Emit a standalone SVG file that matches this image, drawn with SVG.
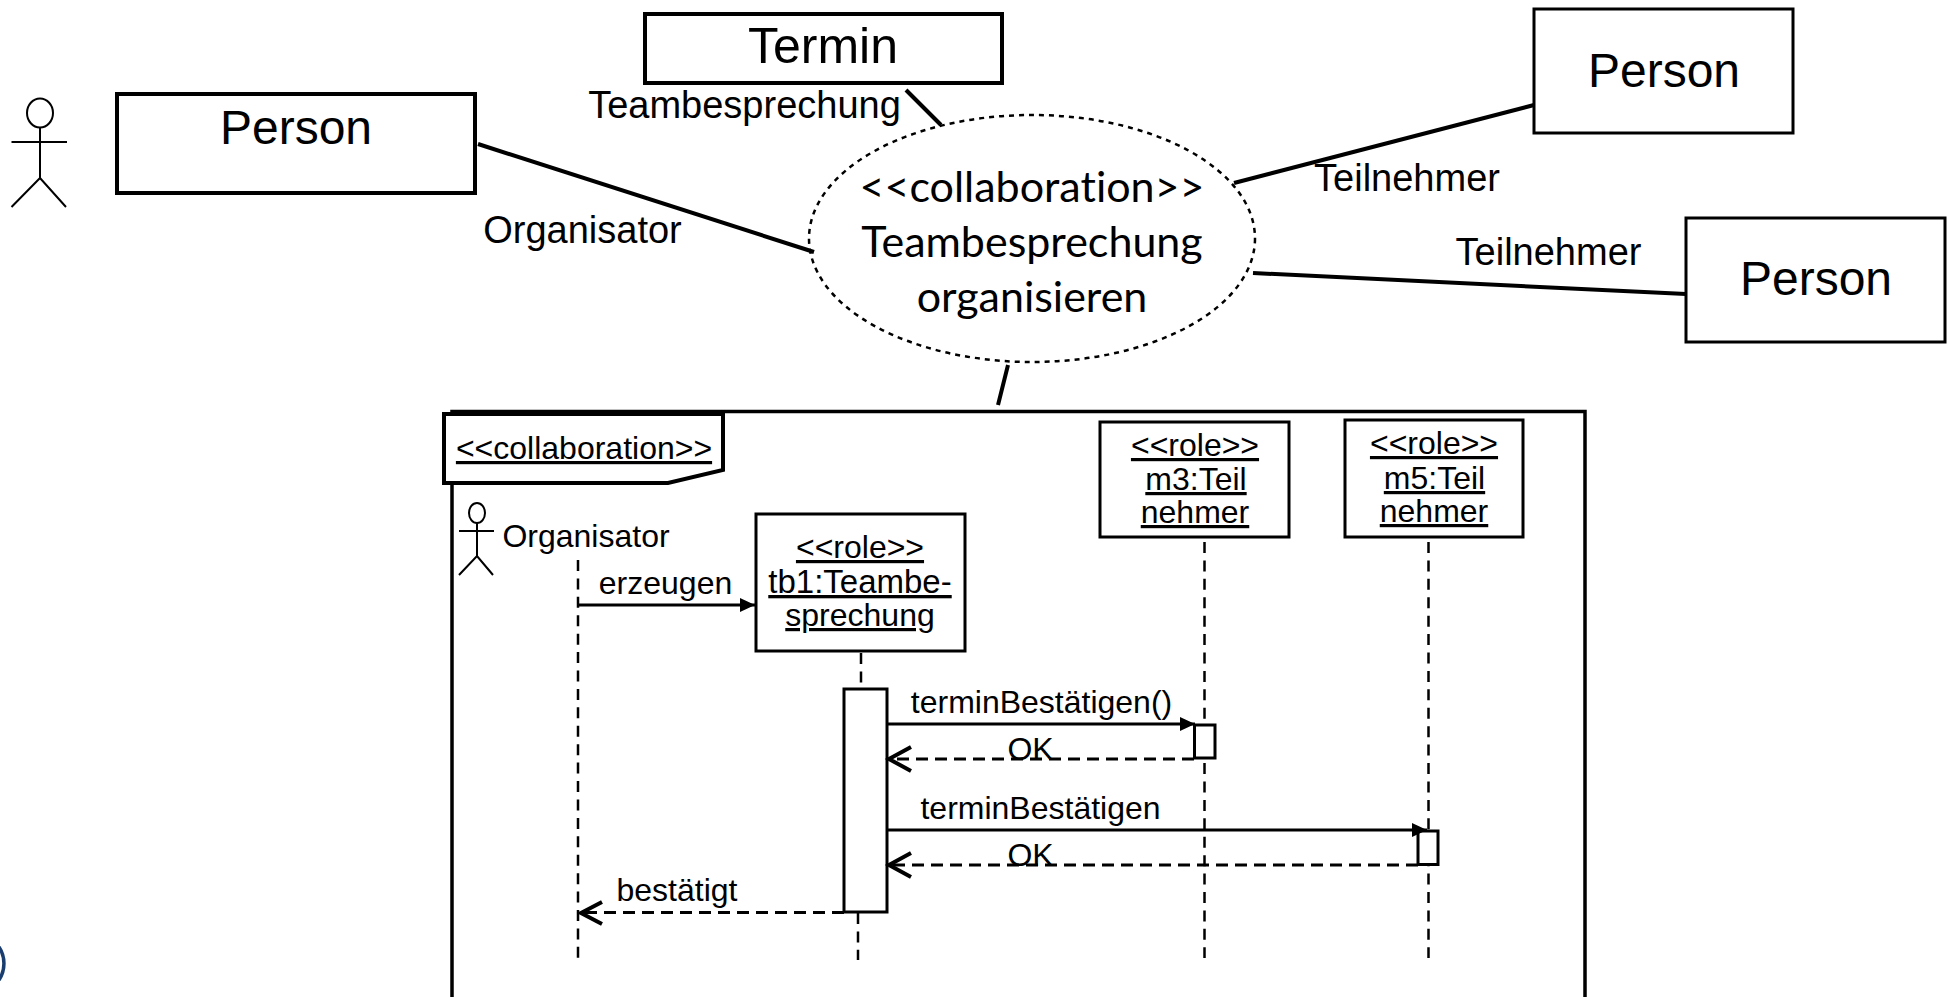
<svg xmlns="http://www.w3.org/2000/svg" width="1948" height="997" viewBox="0 0 1948 997">
<style>
text{font-family:"Liberation Sans",Arial,sans-serif;fill:#000;text-anchor:middle}
.big{font-size:48px}
.ter{font-size:50px}
.lab{font-size:38px}
.sm{font-size:32px}
.sm2{font-size:33px}
.u{text-decoration:underline;text-decoration-thickness:1.5px}
.ell{font-family:Lato,"Open Sans",sans-serif;font-size:43px;font-variant-ligatures:none}
.box{fill:#fff;stroke:#000;stroke-width:3}
.box4{fill:#fff;stroke:#000;stroke-width:4}
.thick{fill:none;stroke:#000;stroke-width:4}
.thin{fill:none;stroke:#000;stroke-width:2}
.msg{fill:none;stroke:#000;stroke-width:3}
.ret{fill:none;stroke:#000;stroke-width:3;stroke-dasharray:12 7}
.life{fill:none;stroke:#000;stroke-width:2.500;stroke-dasharray:11 7.420}
.head{fill:none;stroke:#000;stroke-width:4}
</style>
<defs>
<marker id="filled" markerUnits="userSpaceOnUse" markerWidth="16" markerHeight="16" refX="15" refY="7" orient="auto"><path d="M0 0L15 7L0 14z" fill="#000"/></marker>
</defs>
<path d="M-1 947A30 30 0 0 1 -1 980" fill="none" stroke="#1a3d70" stroke-width="3.500"/>
<g id="connectors">
<line class="thick" x1="478" y1="144" x2="814" y2="252"/>
<line class="thick" x1="906" y1="90" x2="941" y2="125"/>
<line class="thick" x1="1234" y1="183" x2="1534" y2="105"/>
<line class="thick" x1="1253" y1="273" x2="1686" y2="294"/>
<line class="thick" x1="1008" y1="365" x2="998" y2="405"/>
</g>
<g id="actor-top">
<ellipse class="thin" cx="40" cy="113" rx="13" ry="14.500"/>
<path class="thin" d="M40 128V178M11.500 142H67M11.500 207L40 178L66 207"/>
</g>
<g id="person-organisator"><rect class="box4" x="117" y="94" width="358" height="99"/><text class="big" x="296" y="144">Person</text></g>
<g id="termin"><rect class="box4" x="645" y="14" width="357" height="69"/><text class="ter" x="823" y="63">Termin</text></g>
<g id="person-teilnehmer-1"><rect class="box" x="1534" y="9" width="259" height="124"/><text class="big" x="1664" y="87">Person</text></g>
<g id="person-teilnehmer-2"><rect class="box" x="1686" y="218" width="259" height="124"/><text class="big" x="1816" y="295">Person</text></g>
<g id="collaboration-use">
<ellipse cx="1032" cy="238.500" rx="223" ry="123.500" fill="none" stroke="#000" stroke-width="2.500" stroke-dasharray="5 5"/>
<text class="ell" x="1032" y="202">&lt;&lt;collaboration&gt;&gt;</text>
<text class="ell" x="1032" y="257">Teambesprechung</text>
<text class="ell" x="1032" y="312">organisieren</text>
</g>
<g id="labels">
<text class="lab" x="744.500" y="118">Teambesprechung</text>
<text class="lab" x="582.500" y="243">Organisator</text>
<text class="lab" x="1407" y="191">Teilnehmer</text>
<text class="lab" x="1548.500" y="265">Teilnehmer</text>
</g>
<g id="frame">
<path d="M452 997V411.500H1585V997" fill="none" stroke="#000" stroke-width="3.500"/>
<path d="M444 414H723V470L668 483H444z" fill="#fff" stroke="#000" stroke-width="4"/>
<text class="sm u" x="584" y="459">&lt;&lt;collaboration&gt;&gt;</text>
</g>
<g id="lifelines">
<line class="life" x1="578" y1="560" x2="578" y2="958"/>
<line class="life" x1="861" y1="653" x2="861" y2="689"/>
<line class="life" x1="858" y1="913" x2="858" y2="960"/>
<line class="life" x1="1204.500" y1="542" x2="1204.500" y2="958"/>
<line class="life" x1="1428.500" y1="542" x2="1428.500" y2="958"/>
</g>
<g id="actor-organisator">
<ellipse class="thin" cx="477" cy="513" rx="8" ry="10"/>
<path class="thin" d="M477 523V556M459 531H494M459 575L477 556L493 575"/>
<text class="sm" x="586" y="547">Organisator</text>
</g>
<g id="role-tb1"><rect class="box" x="756" y="514" width="209" height="137"/>
<text class="sm u" x="860" y="558">&lt;&lt;role&gt;&gt;</text><text class="sm2 u" x="860" y="593">tb1:Teambe-</text><text class="sm u" x="860" y="626">sprechung</text></g>
<g id="role-m3"><rect class="box" x="1100" y="422" width="189" height="115"/>
<text class="sm u" x="1195" y="456">&lt;&lt;role&gt;&gt;</text><text class="sm u" x="1196" y="490">m3:Teil</text><text class="sm u" x="1195" y="523">nehmer</text></g>
<g id="role-m5"><rect class="box" x="1345" y="420" width="178" height="117"/>
<text class="sm u" x="1434" y="454">&lt;&lt;role&gt;&gt;</text><text class="sm u" x="1434.500" y="489">m5:Teil</text><text class="sm u" x="1434" y="522">nehmer</text></g>
<g id="activation-tb1"><rect class="box" x="844" y="689" width="43" height="223"/></g>
<g id="activation-m3"><rect class="box" x="1194.500" y="725" width="20.500" height="33"/></g>
<g id="activation-m5"><rect class="box" x="1418" y="831" width="20" height="33.500"/></g>
<g id="messages">
<line class="msg" x1="578" y1="605" x2="755" y2="605" marker-end="url(#filled)"/>
<line class="msg" x1="887" y1="724" x2="1195" y2="724" marker-end="url(#filled)"/>
<line class="msg" x1="887" y1="830" x2="1427" y2="830" marker-end="url(#filled)"/>
<line class="ret" x1="1194" y1="759" x2="890" y2="759"/>
<path class="head" d="M911 747L889 759L911 771"/>
<line class="ret" x1="1418" y1="865" x2="890" y2="865"/>
<path class="head" d="M911 853L889 865L911 877"/>
<line class="ret" x1="844" y1="912.500" x2="582" y2="912.500"/>
<path class="head" d="M602 902L581 913L602 924"/>
</g>
<g id="message-labels">
<text class="sm" x="665.500" y="594">erzeugen</text>
<text class="sm" x="1041.500" y="713">terminBestätigen()</text>
<text class="sm" x="1030.500" y="760">OK</text>
<text class="sm" x="1040.500" y="819">terminBestätigen</text>
<text class="sm" x="1030.500" y="866">OK</text>
<text class="sm" x="677" y="901">bestätigt</text>
</g>
</svg>
